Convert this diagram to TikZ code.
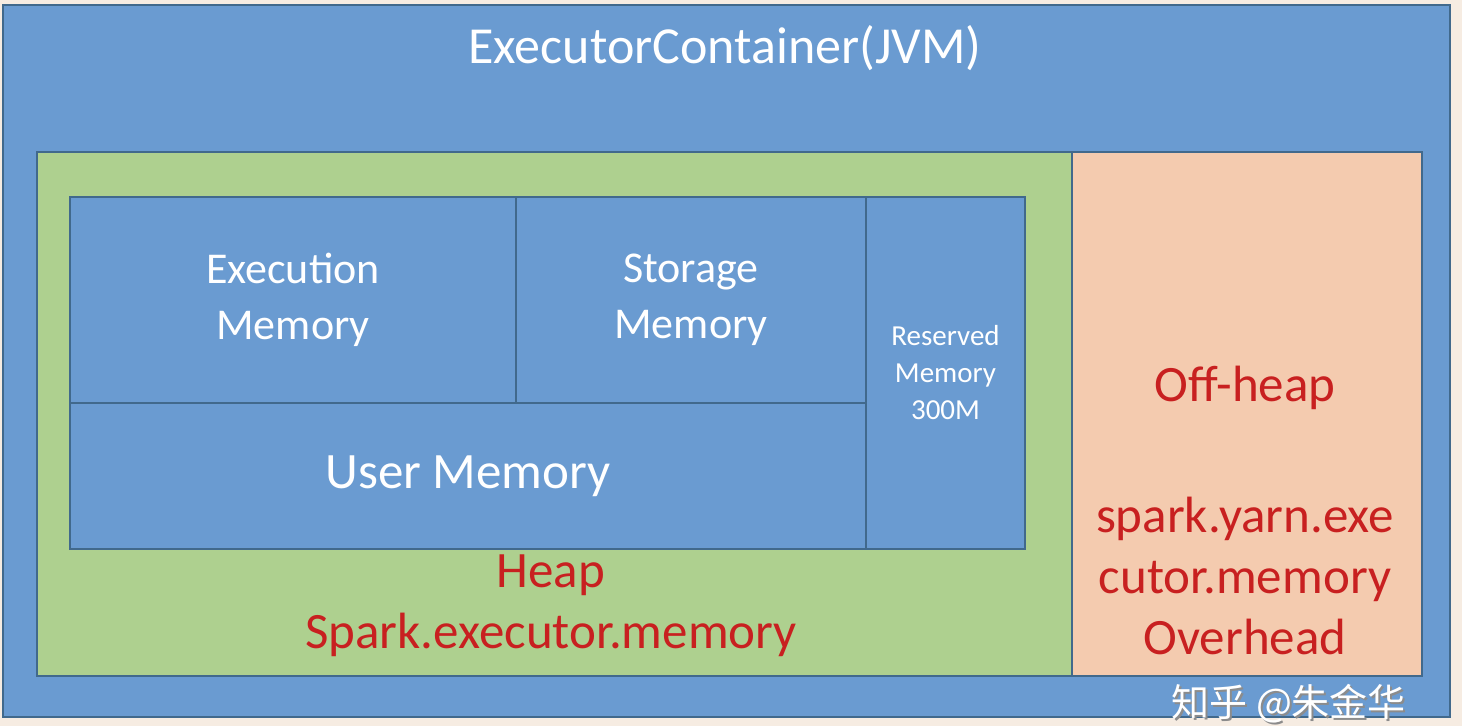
\documentclass[tikz,border=0pt]{standalone}
\usepackage{fontspec}
\setmainfont{Carlito}
\newfontfamily\cjk{Noto Sans CJK SC}
\usepackage{xcolor}
\usetikzlibrary{positioning}

\definecolor{jvmblue}{RGB}{106,155,209}
\definecolor{heapgreen}{RGB}{174,208,143}
\definecolor{offpeach}{RGB}{244,203,175}
\definecolor{edgeblue}{RGB}{65,105,140}
\definecolor{labelred}{RGB}{200,32,32}
\definecolor{paper}{RGB}{246,236,226}

\begin{document}
\begin{tikzpicture}[x=1pt,y=-1pt,
  box/.style={draw=edgeblue,line width=1.2pt,inner sep=0pt,outer sep=0pt,anchor=north west},
  membox/.style={box,fill=jvmblue,text=white,align=center,font=\fontsize{44}{56}\selectfont},
  redtext/.style={text=labelred,align=center,font=\fontsize{51}{61}\selectfont}]
  \useasboundingbox[fill=paper] (0,0) rectangle (1462,726);
  % containers
  \node[box,fill=jvmblue,minimum width=1447pt,minimum height=712pt] (jvm) at (3,5) {};
  \node[text=white,font=\fontsize{52}{60}\selectfont] (title) at (725,48) {ExecutorContainer(JVM)};
  \node[box,fill=heapgreen,minimum width=1035pt,minimum height=524pt] (heap) at (37,152) {};
  \node[box,fill=offpeach,minimum width=350pt,minimum height=524pt] (offheap) [right=0pt of heap.north east,anchor=north west] {};
  % heap regions
  \node[membox,minimum width=446pt,minimum height=206pt] (exec) at (70,197) {Execution\\Memory};
  \node[membox,minimum width=350pt,minimum height=206pt] (storage) [right=0pt of exec.north east,anchor=north west] {Storage\\Memory};
  \node[membox,minimum width=796pt,minimum height=146pt,font=\fontsize{51}{56}\selectfont] (user) [below=0pt of exec.south west,anchor=north west] {User Memory};
  \node[membox,minimum width=159pt,minimum height=352pt,font=\fontsize{29}{37}\selectfont] (reserved) [right=0pt of storage.north east,anchor=north west] {Reserved\\Memory\\300M};
  % labels
  \node[redtext] (heaplabel) at (551,606) {Heap\\Spark.executor.memory};
  \node[redtext] (offlabel) at (1245,388) {Off-heap};
  \node[redtext] (overhead) at (1245,576) {spark.yarn.exe\\cutor.memory\\Overhead};
  % watermark
  \node[anchor=base west,text=black!45,font=\cjk\fontsize{38}{44}\selectfont] (markshadow) at (1170,718) {知乎 @朱金华};
  \node[anchor=base west,text=white,font=\cjk\fontsize{38}{44}\selectfont] (mark) at (1168,716) {知乎 @朱金华};
\end{tikzpicture}
\end{document}
